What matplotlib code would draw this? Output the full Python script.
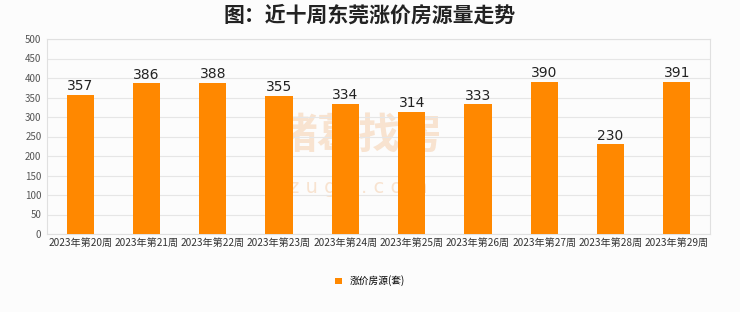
import matplotlib
matplotlib.use("Agg")
import matplotlib.pyplot as plt
import numpy as np

plt.rcParams['font.family'] = ['Noto Sans CJK SC', 'DejaVu Sans']

categories = ["2023年第20周", "2023年第21周", "2023年第22周", "2023年第23周", "2023年第24周",
              "2023年第25周", "2023年第26周", "2023年第27周", "2023年第28周", "2023年第29周"]
values = [357, 386, 388, 355, 334, 314, 333, 390, 230, 391]
series_name = "涨价房源(套)"
title = "图：近十周东莞涨价房源量走势"

bg = "#fcfcfc"
orange = "#ff8800"

fig = plt.figure(figsize=(7.4, 3.12), dpi=100, facecolor=bg)
ax = fig.add_axes([47/740, 1-234/312, (710-47)/740, (234-39)/312], facecolor=bg)

x = np.arange(len(categories))
bars = ax.bar(x, values, width=0.41, color=orange, label=series_name, zorder=3)
for xi, v in zip(x, values):
    ax.text(xi, v + 4, str(v), ha='center', va='bottom', fontsize=10, color='#222222',
            family=['DejaVu Sans'])

ax.set_xlim(-0.5, len(categories) - 0.5)
ax.set_ylim(0, 500)
ax.set_yticks(np.arange(0, 501, 50))
ax.set_xticks(x)
ax.set_xticklabels(categories, fontsize=7.3, color='#333333')
ax.tick_params(axis='y', labelsize=7, colors='#555555', length=0, pad=4)
ax.tick_params(axis='x', length=0, pad=3)
ax.grid(axis='y', color='#e6e6e6', linewidth=0.8, zorder=0)
for s in ['top', 'right', 'left', 'bottom']:
    ax.spines[s].set_color('#e0e0e0')
    ax.spines[s].set_linewidth(0.8)

# faint watermark
ax.text(4.2, 250, "诸葛找房", ha='center', va='center', fontsize=30, color='#f8e3d0',
        zorder=1, fontweight='bold')
ax.text(4.2, 118, "z u g e . c o m", ha='center', va='center', fontsize=14, color='#f8e3d0',
        zorder=1, family=['DejaVu Sans'])

fig.text(0.5, 1-15/312, title, ha='center', va='center', fontsize=15, fontweight='bold', color='#222222')

leg = fig.legend(handles=[bars], labels=[series_name], loc='center', bbox_to_anchor=(0.5, 1-281/312),
                 frameon=False, fontsize=7, handlelength=0.7, handleheight=0.7, handletextpad=0.8)

fig.savefig("out.png", dpi=100, facecolor=bg)
